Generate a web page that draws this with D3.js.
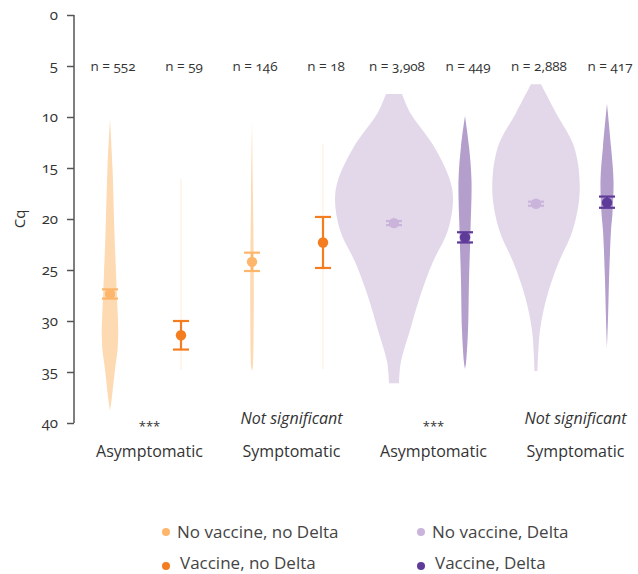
<!DOCTYPE html>
<html>
<head>
<meta charset="utf-8">
<script src="https://cdn.jsdelivr.net/npm/d3@7"></script>
<style>
  body { margin: 0; background: #fff; }
  svg { font-family: "Open Sans", "Noto Sans", sans-serif; font-variant-numeric: oldstyle-nums; }
</style>
</head>
<body>
<svg id="chart" width="638" height="574"></svg>
<script>
// groups in drawing order
let ids = ["nvnd_a", "vnd_a", "nvnd_s", "vnd_s", "nvd_a", "vd_a", "nvd_s", "vd_s"];
let nLabels = ["n = 552", "n = 59", "n = 146", "n = 18", "n = 3,908", "n = 449", "n = 2,888", "n = 417"];
let kind = [0, 1, 0, 1, 2, 3, 2, 3]; // legend series of each violin
let means = [27.35, 31.4, 24.2, 22.3, 20.4, 21.8, 18.5, 18.4];
let lowCI = [26.9, 30.0, 23.3, 19.8, 20.2, 21.3, 18.3, 17.8];
let highCI = [27.8, 32.8, 25.1, 24.8, 20.6, 22.3, 18.7, 18.9];

// violin shapes: Cq levels and relative density (half width)
let violinCq = [
  [10.2, 14.9, 21.4, 25, 27.2, 29.5, 31.2, 33, 34.5, 37.8, 38.8],
  [16.1, 20, 25, 30, 34.8],
  [10.3, 18.1, 24.6, 29.5, 34.5, 34.9],
  [12.6, 20, 25, 30, 34.7],
  [7.75, 9.64, 12.9, 16.2, 18.1, 21.1, 24.3, 27.6, 30.9, 34.1, 36.1],
  [9.9, 12.9, 16.2, 21.1, 26.0, 30.9, 34.1, 34.7],
  [6.8, 9.6, 12.9, 17.2, 21.1, 24.3, 27.6, 30.9, 34.9],
  [8.7, 12.9, 16.2, 19.4, 21.1, 26.0, 29.2, 32.7]
];
let violinDens = [
  [0, 0.042, 0.076, 0.1, 0.115, 0.132, 0.14, 0.125, 0.09, 0.025, 0],
  [0.006, 0.006, 0.006, 0.006, 0.006],
  [0, 0.017, 0.029, 0.029, 0.014, 0],
  [0.006, 0.006, 0.006, 0.006, 0.006],
  [0.136, 0.28, 0.678, 0.949, 1.0, 0.915, 0.653, 0.441, 0.271, 0.114, 0.085],
  [0, 0.068, 0.11, 0.093, 0.068, 0.051, 0.017, 0],
  [0.085, 0.339, 0.644, 0.741, 0.622, 0.381, 0.186, 0.068, 0.025],
  [0, 0.068, 0.11, 0.093, 0.068, 0.034, 0.02, 0]
];

let yTicks = [0, 5, 10, 15, 20, 25, 30, 35, 40];
let groupLabels = ["Asymptomatic", "Symptomatic", "Asymptomatic", "Symptomatic"];
let sigLabels = ["***", "Not significant", "***", "Not significant"];
let legendLabels = ["No vaccine, no Delta", "Vaccine, no Delta", "No vaccine, Delta", "Vaccine, Delta"];

let violinFill = ["#fddab2", "#fbe2cc", "#e3d8ea", "#b39ecc"];
let pointColor = ["#fdb66b", "#f47d20", "#cab4db", "#5f3b99"];

let svg = d3.select("#chart");
let x = d3.scaleBand().domain(ids).range([74.5, 642.5]);
let y = d3.scaleLinear().domain([0, 40]).range([15, 423]);
let w = d3.scaleLinear().domain([0, 1]).range([0, 59]);

// y axis
let yAxis = svg.append("g")
  .attr("transform", "translate(74,0)")
  .call(d3.axisLeft(y).tickValues(yTicks).tickSize(7).tickPadding(9).tickFormat(d3.format("d")));
yAxis.select(".domain").attr("stroke", "#555").attr("stroke-width", 1.5).attr("d", "M0,15V423");
yAxis.selectAll(".tick line").attr("stroke", "#555").attr("stroke-width", 1.5);
yAxis.selectAll(".tick text").attr("fill", "#333").attr("font-size", "15px").attr("font-family", "Open Sans");

svg.append("text")
  .attr("transform", "translate(25," + y(20) + ") rotate(-90)")
  .attr("text-anchor", "middle")
  .attr("fill", "#333")
  .attr("font-size", "15px")
  .text("Cq");

// violins
let area = d3.area()
  .curve(d3.curveCatmullRom.alpha(0.5));
ids.forEach((id, i) => {
  let cx = x(id) + x.bandwidth() / 2;
  let pts = violinCq[i].map((c, j) => [c, violinDens[i][j]]);
  area.y(d => y(d[0])).x0(d => cx - w(d[1])).x1(d => cx + w(d[1]));
  svg.append("path")
    .datum(pts)
    .attr("fill", violinFill[kind[i]])
    .attr("d", area);
});

// means and CIs
ids.forEach((id, i) => {
  let cx = x(id) + x.bandwidth() / 2;
  let g = svg.append("g").attr("stroke", pointColor[kind[i]]).attr("stroke-width", 2.2);
  g.append("line").attr("x1", cx).attr("x2", cx).attr("y1", y(lowCI[i])).attr("y2", y(highCI[i]));
  [lowCI[i], highCI[i]].forEach(v => {
    g.append("line").attr("x1", cx - 8).attr("x2", cx + 8).attr("y1", y(v)).attr("y2", y(v));
  });
  svg.append("circle").attr("cx", cx).attr("cy", y(means[i])).attr("r", 5.2)
    .attr("fill", pointColor[kind[i]]);
});

// n labels
svg.append("g").selectAll("text")
  .data(ids)
  .join("text")
  .attr("x", d => x(d) + x.bandwidth() / 2 + 3)
  .attr("y", y(5) + 5)
  .attr("text-anchor", "middle")
  .attr("fill", "#333")
  .attr("font-size", "13.5px")
  .text((d, i) => nLabels[i]);

// group & significance labels
groupLabels.forEach((lab, k) => {
  let cx = x(ids[2 * k]) + x.bandwidth() + 4;
  svg.append("text")
    .attr("x", cx).attr("y", 457)
    .attr("text-anchor", "middle").attr("fill", "#333").attr("font-size", "16px")
    .text(lab);
  svg.append("text")
    .attr("x", cx).attr("y", sigLabels[k] === "***" ? 431 : 424)
    .attr("text-anchor", "middle").attr("fill", "#333")
    .attr("font-size", sigLabels[k] === "***" ? "13px" : "16px")
    .attr("font-style", sigLabels[k] === "***" ? "normal" : "italic")
    .text(sigLabels[k]);
});

// legend
let legend = svg.append("g");
legendLabels.forEach((lab, k) => {
  let col = Math.floor(k / 2), row = k % 2;
  let lx = 166 + col * 255, ly = 532 + row * 34;
  legend.append("circle").attr("cx", lx).attr("cy", ly).attr("r", 4).attr("fill", pointColor[k]);
  legend.append("text")
    .attr("x", lx + 11 + (row ? 3 : 0)).attr("y", ly + (row ? 3 : 6))
    .attr("fill", "#444").attr("font-size", "17px")
    .text(lab);
});
</script>
</body>
</html>
